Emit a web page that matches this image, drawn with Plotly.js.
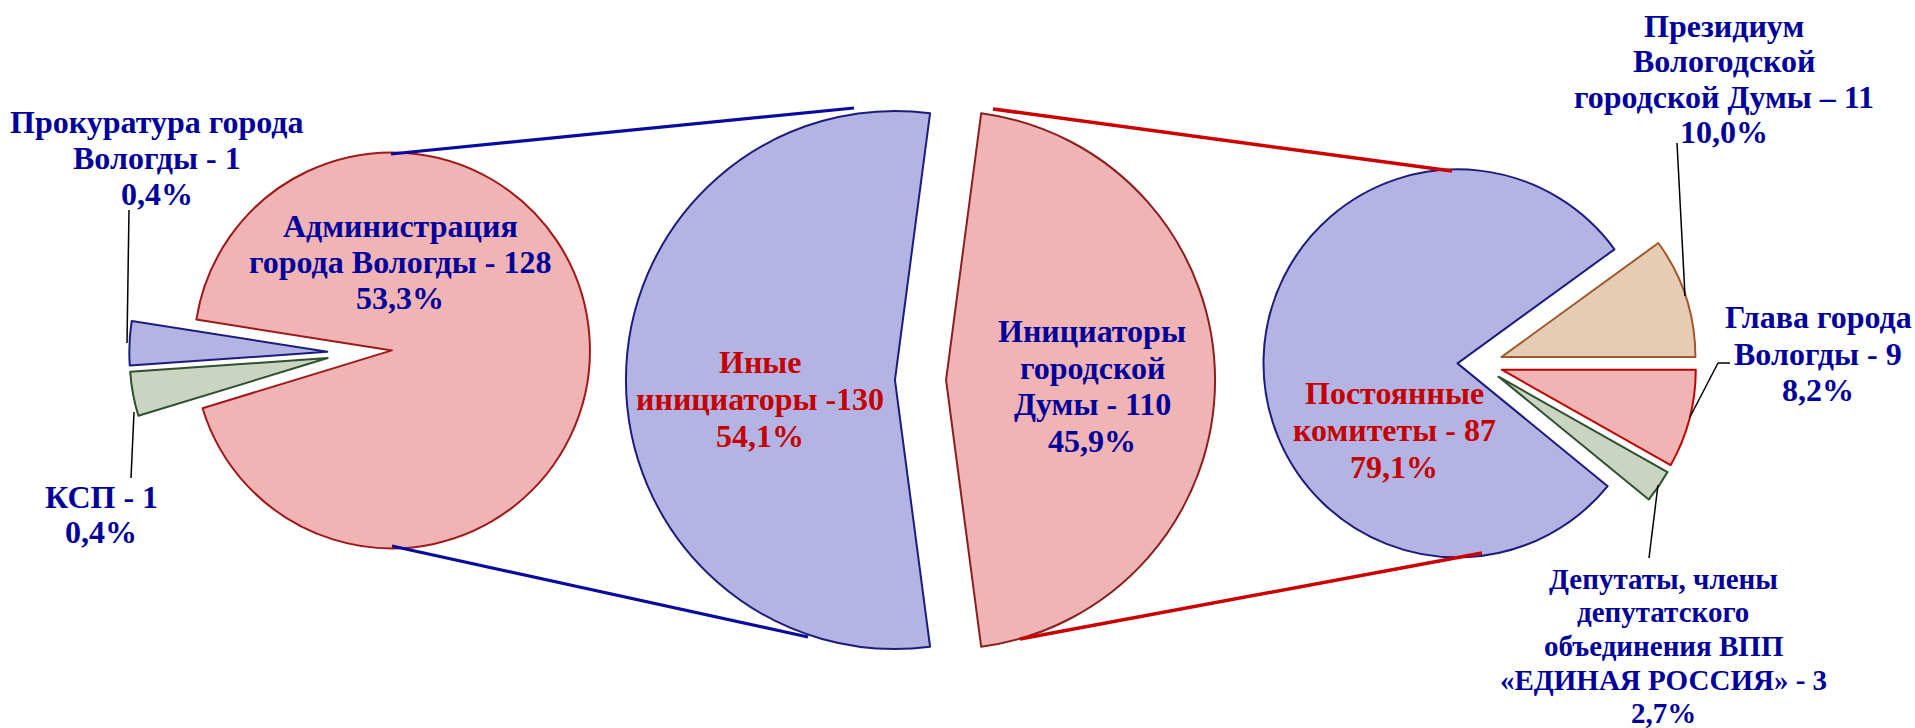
<!DOCTYPE html>
<html><head><meta charset="utf-8">
<script src="https://cdn.plot.ly/plotly-3.0.1.min.js"></script>
<style>html,body{margin:0;padding:0;background:#fff;} #chart{width:1915px;height:728px;}</style>
</head><body><div id="chart"></div>
<script>
// ---------------- data ----------------
// central pie: all initiators
const mainLabels   = ['Иные инициаторы', 'Инициаторы городской Думы'];
const mainCounts   = [130, 110];
const mainPercents = ['54,1%', '45,9%'];

// left pie: "other initiators" breakdown
const otherLabels      = ['Прокуратура города Вологды', 'Администрация города Вологды', 'КСП'];
const otherCounts      = [1, 128, 1];
const otherPercents    = ['0,4%', '53,3%', '0,4%'];
const otherSliceShares = [3.6, 92.8, 3.6];   // slice sizes as drawn in the picture

// right pie: "city Duma initiators" breakdown
const dumaLabels   = ['Президиум Вологодской городской Думы', 'Глава города Вологды',
                      'Депутаты, члены депутатского объединения ВПП «ЕДИНАЯ РОССИЯ»', 'Постоянные комитеты'];
const dumaCounts   = [11, 9, 3, 87];
const dumaPercents = ['10,0%', '8,2%', '2,7%', '79,1%'];

// label text (line breaks as on the slide)
const mainNameLines  = ['Иные<br>инициаторы -', 'Инициаторы<br>городской<br>Думы - '];
const otherNameLines = ['Прокуратура города<br>Вологды - ', 'Администрация<br>города Вологды - ', 'КСП - '];
const dumaNameLines  = ['Президиум<br>Вологодской<br>городской Думы – ', 'Глава города<br>Вологды - ',
                        'Депутаты, члены<br>депутатского<br>объединения ВПП<br>«ЕДИНАЯ РОССИЯ» - ', 'Постоянные<br>комитеты - '];

// ---------------- styling / layout ----------------
const W = 1915, H = 728;
const BLUE_F = '#b4b4e4', PINK_F = '#f0b4b4', GREEN_F = '#c9d5c1', TAN_F = '#e6ccb4';
const BLUE_L = '#1c1c7c', PINK_L = '#a01818', GREEN_L = '#2f4f2f', TAN_L = '#a0582a';
const TXT_BLUE = '#00009a', TXT_RED = '#c40000';
const FONT = 'Liberation Serif, Times New Roman, serif';

const geo = {
  other: {cx: 355,   cy: 353, r: 198, pull: [0.14, 0.187, 0.14],          rot: 266,   dir: 'clockwise'},
  main:  {cx: 920.5, cy: 380, r: 269, pull: [0.095, 0.095],               rot: 172.5, dir: 'clockwise'},
  duma:  {cx: 1480,  cy: 364, r: 194, pull: [0.116, 0.116, 0.116, 0.116], rot: 54,    dir: 'clockwise'}
};
function domainOf(g) {
  const half = g.r * (1 + Math.max.apply(null, g.pull));
  return {x: [(g.cx - half) / W, (g.cx + half) / W],
          y: [1 - (g.cy + half) / H, 1 - (g.cy - half) / H]};
}
function pieTrace(labels, values, g, fills, lines) {
  return {type: 'pie', labels: labels, values: values, sort: false,
          direction: g.dir, rotation: g.rot, pull: g.pull, domain: domainOf(g),
          textinfo: 'none', hoverinfo: 'label+value', showlegend: false,
          marker: {colors: fills, line: {color: lines, width: 2}}};
}

const traces = [
  pieTrace(otherLabels, otherSliceShares, geo.other, [BLUE_F, PINK_F, GREEN_F], [BLUE_L, PINK_L, GREEN_L]),
  pieTrace(mainLabels, mainCounts, geo.main, [BLUE_F, PINK_F], [BLUE_L, '#8a1f1f']),
  pieTrace(dumaLabels, dumaCounts, geo.duma, [TAN_F, PINK_F, GREEN_F, BLUE_F], [TAN_L, '#c00000', GREEN_L, BLUE_L])
];

// label placement: [x centre, y centre of block, line spacing, font size] in px
const labelPos = {
  main:  [[760, 399, 37, 32], [1092, 386, 36.5, 32]],
  other: [[157, 158, 36, 32], [400, 262, 36, 32], [101, 514, 35, 32]],
  duma:  [[1724, 79, 35.5, 32], [1818, 353.5, 36.5, 32], [1663, 646, 33.6, 29], [1394, 430, 37, 32]]
};
const labelCol = {main: [TXT_RED, TXT_BLUE], other: [TXT_BLUE, TXT_BLUE, TXT_BLUE],
                  duma: [TXT_BLUE, TXT_BLUE, TXT_BLUE, TXT_RED]};

const annotations = [];
function addLabels(key, names, counts, pcts) {
  names.forEach(function (n, i) {
    const lines = (n + counts[i]).split('<br>').concat([pcts[i]]);
    const p = labelPos[key][i];
    lines.forEach(function (ln, k) {
      const y = p[1] + (k - (lines.length - 1) / 2) * p[2];
      annotations.push({
        xref: 'paper', yref: 'paper', x: p[0] / W, y: 1 - y / H,
        xanchor: 'center', yanchor: 'middle', align: 'center', showarrow: false,
        text: ln,
        font: {family: FONT, size: p[3], color: labelCol[key][i], weight: 'bold'}
      });
    });
  });
}
addLabels('main', mainNameLines, mainCounts, mainPercents);
addLabels('other', otherNameLines, otherCounts, otherPercents);
addLabels('duma', dumaNameLines, dumaCounts, dumaPercents);

// connector ("series") lines and leader lines, px
const seriesLines = [
  {p: [[391, 154], [854, 108]], c: '#0a0aa0', w: 3.2},
  {p: [[392, 546], [808, 637]], c: '#0a0aa0', w: 3.2},
  {p: [[993, 109], [1452, 171]], c: '#cc0000', w: 3.5},
  {p: [[1020, 639], [1482, 553]], c: '#cc0000', w: 3.5}
];
const leaderLines = [
  [[129, 210], [127, 343]],
  [[134, 412], [131, 478]],
  [[1677, 143], [1685, 296]],
  [[1730, 363], [1718, 363]],
  [[1718, 363], [1690, 417]],
  [[1658, 485], [1649, 558]]
];
const shapes = [];
seriesLines.forEach(function (s) {
  shapes.push({type: 'line', xref: 'paper', yref: 'paper',
    x0: s.p[0][0] / W, y0: 1 - s.p[0][1] / H, x1: s.p[1][0] / W, y1: 1 - s.p[1][1] / H,
    line: {color: s.c, width: s.w}});
});
leaderLines.forEach(function (p) {
  shapes.push({type: 'line', xref: 'paper', yref: 'paper',
    x0: p[0][0] / W, y0: 1 - p[0][1] / H, x1: p[1][0] / W, y1: 1 - p[1][1] / H,
    line: {color: '#000000', width: 1.5}});
});

const layout = {
  width: W, height: H, margin: {l: 0, r: 0, t: 0, b: 0, pad: 0},
  paper_bgcolor: '#ffffff', plot_bgcolor: '#ffffff', showlegend: false,
  annotations: annotations, shapes: shapes
};
Plotly.newPlot('chart', traces, layout, {displayModeBar: false, staticPlot: true});
</script>
</body></html>
